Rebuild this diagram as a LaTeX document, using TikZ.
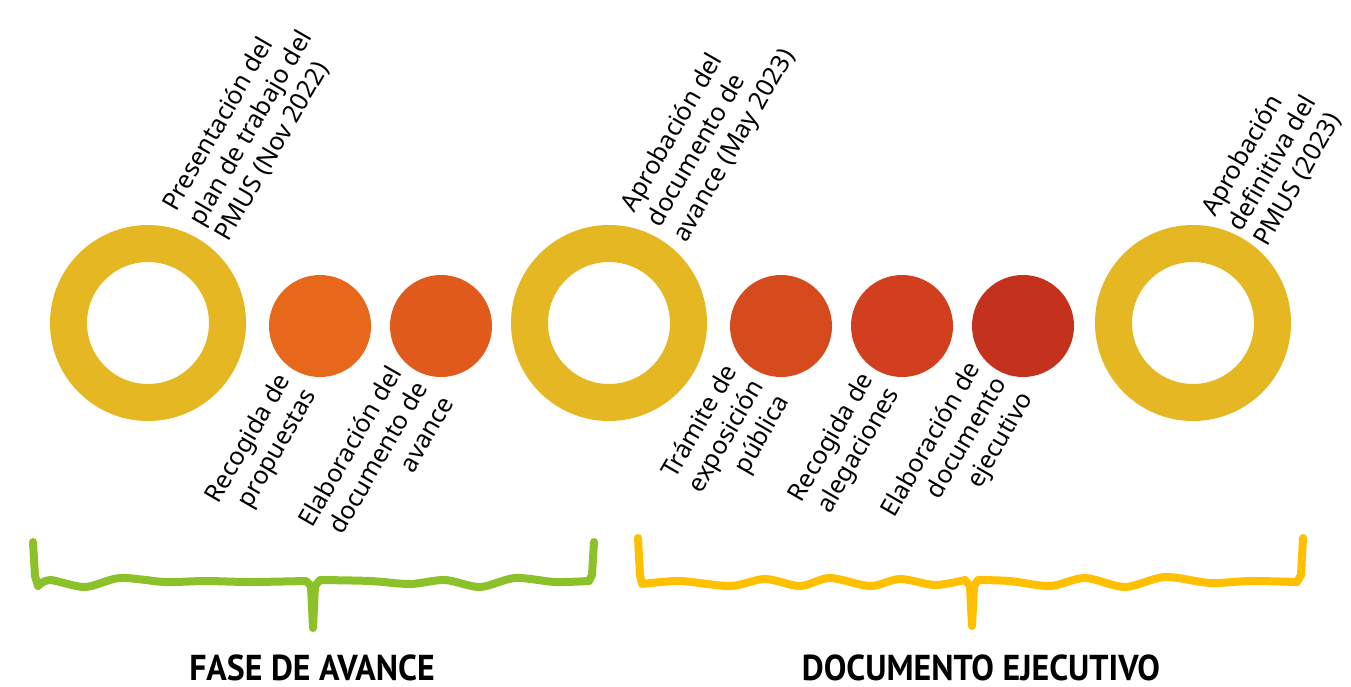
\documentclass[tikz,border=0pt]{standalone}
\usepackage{fontspec}
\setmainfont{Noto Sans}
\newfontfamily\phasefont[FakeStretch=0.94]{PT Sans Bold}
\definecolor{ringgold}{HTML}{E5B722}
\definecolor{stepA}{HTML}{E8681B}
\definecolor{stepB}{HTML}{E05A1C}
\definecolor{stepC}{HTML}{D64B1E}
\definecolor{stepD}{HTML}{D13F1F}
\definecolor{stepE}{HTML}{C4311C}
\definecolor{bracegreen}{HTML}{8CC12A}
\definecolor{braceyellow}{HTML}{FFC000}
\tikzset{
  milestone/.style={circle,draw=ringgold,line width=37pt,minimum size=159pt,inner sep=0pt},
  task/.style={circle,fill=#1,minimum size=102pt,inner sep=0pt},
  toplabel/.style={rotate=60,anchor=west,align=left,font=\fontsize{25}{30}\selectfont},
  lowlabel/.style={rotate=60,anchor=east,align=right,font=\fontsize{25}{30}\selectfont},
  phase/.style={inner sep=0pt,font=\fontsize{36}{40}\phasefont},
  bracestroke/.style={line width=8pt,line cap=round,line join=round}
}
\begin{document}
\begin{tikzpicture}[x=1pt,y=1pt]
  \useasboundingbox (0,0) rectangle (1351,-687);
  % milestones and tasks
  \node[milestone] (m1) at (148,-323) {};
  \node[task=stepA] (t1) at (320,-326) {};
  \node[task=stepB] (t2) at (441,-326) {};
  \node[milestone] (m2) at (609,-323) {};
  \node[task=stepC] (t3) at (781,-326) {};
  \node[task=stepD] (t4) at (902,-326) {};
  \node[task=stepE] (t5) at (1023,-326) {};
  \node[milestone] (m3) at (1193,-323) {};
  % labels above
  \node[toplabel] (lm1) at (194,-227) {Presentación del\\plan de trabajo del\\PMUS (Nov 2022)};
  \node[toplabel] (lm2) at (653,-228) {Aprobación del\\documento de\\avance (May 2023)};
  \node[toplabel] (lm3) at (1233,-232) {Aprobación\\definitiva del\\PMUS (2023)};
  % labels below
  \node[lowlabel] (lt1) at (300,-381) {Recogida de\\propuestas};
  \node[lowlabel] (lt2) at (422,-380) {Elaboración del\\documento de\\avance};
  \node[lowlabel] (lt3) at (760,-380) {Trámite de\\exposición\\pública};
  \node[lowlabel] (lt4) at (883,-380) {Recogida de\\alegaciones};
  \node[lowlabel] (lt5) at (1003,-377) {Elaboración de\\documento\\ejecutivo};
  % braces
  \draw[bracestroke,bracegreen] (33,-542) -- (35,-576) -- (38,-586)
    plot[smooth] coordinates {(38,-586) (50,-580) (85,-587) (120,-578) (165,-582) (205,-581) (250,-582) (306,-581)}
    -- (311,-586) -- (313,-628) -- (315,-586) -- (320,-580)
    plot[smooth] coordinates {(320,-580) (370,-581) (410,-584) (445,-580) (480,-587) (515,-578) (555,-582) (589,-581)}
    -- (592,-575) -- (594,-542);
  \draw[bracestroke,braceyellow] (638,-538) -- (640,-575) -- (642,-584)
    plot[smooth] coordinates {(642,-584) (680,-581) (730,-586) (765,-579) (800,-586) (830,-578) (870,-586) (900,-579) (935,-585) (965,-580)}
    -- (970,-586) -- (972,-626) -- (974,-586) -- (978,-580)
    plot[smooth] coordinates {(978,-580) (1010,-581) (1050,-586) (1085,-578) (1125,-587) (1165,-577) (1210,-583) (1250,-581) (1297,-582)}
    -- (1301,-575) -- (1303,-538);
  % phase names
  \node[phase] (p1) at (312,-668) {FASE DE AVANCE};
  \node[phase] (p2) at (981,-668) {DOCUMENTO EJECUTIVO};
\end{tikzpicture}
\end{document}
